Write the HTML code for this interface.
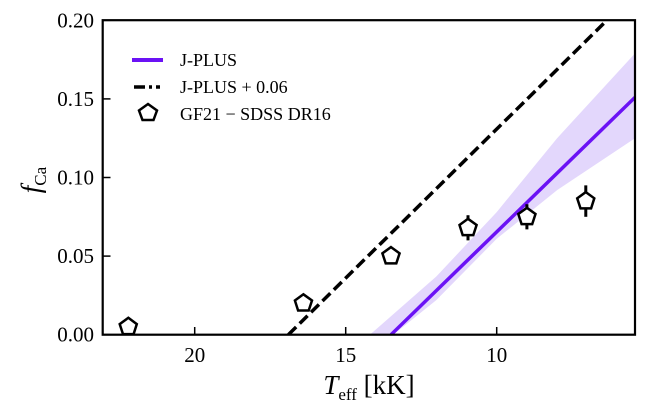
<!DOCTYPE html>
<html><head><meta charset="utf-8"><style>
body{margin:0;background:#fff}
svg{display:block;font-family:"Liberation Serif",serif}
</style></head><body>
<svg id="chart" width="667" height="409" viewBox="0 0 667 409">
<g id="band"></g>
<g id="lines"></g>
<g id="pts"></g>
<rect x="102.7" y="20.2" width="532.3" height="314.5" fill="none" stroke="#000" stroke-width="2.2"/>
<g id="axes"></g>
<text x="369" y="394" font-size="27" text-anchor="middle"><tspan font-style="italic">T</tspan><tspan font-size="17" dy="6">eff</tspan><tspan dy="-6"> [kK]</tspan></text>
<text transform="translate(40,180) rotate(-90)" font-size="27" text-anchor="middle"><tspan font-style="italic">f</tspan><tspan font-size="17" dy="6">Ca</tspan></text>
<g>
<line x1="132" y1="60" x2="163" y2="60" stroke="#6b12f5" stroke-width="4"/>
<text x="180" y="66" font-size="18">J-PLUS</text>
<line x1="134" y1="87" x2="160" y2="87" stroke="#000" stroke-width="3.5" stroke-dasharray="11,4,3,4"/>
<text x="180" y="93" font-size="18">J-PLUS + 0.06</text>
<polygon points="148,104 157,110.5 153.5,120 142.5,120 139,110.5" fill="#fff" stroke="#000" stroke-width="2.5"/>
<text x="180" y="120" font-size="18">GF21 − SDSS DR16</text>
</g>
</svg>
<script>
const xTicks=[20,15,10];
const yTicks=[0,0.05,0.10,0.15,0.20];
const yTickLabels=["0.00","0.05","0.10","0.15","0.20"];
const ptT=[22.2,16.4,13.5,10.95,9.0,7.05];
const ptF=[0.005,0.02,0.05,0.068,0.075,0.085];
const ptErr=[0,0,0,0.008,0.008,0.01];
const lineT=[13.5,5.42];
const lineF=[0,0.151];
const dashT=[16.9,6.35];
const dashF=[0,0.2];
const bandT=[14.2,12.0,10.0,8.0,5.42];
const bandLo=[-0.012,0.022,0.061,0.092,0.125];
const bandHi=[0.0,0.037,0.078,0.125,0.179];
const X=t=>194.7+(20-t)*30.2;
const Y=f=>334.7-f*1572;
const NS="http://www.w3.org/2000/svg";
function mk(tag,parent,attrs){const e=document.createElementNS(NS,tag);for(const k in attrs)e.setAttribute(k,attrs[k]);parent.appendChild(e);return e;}
const svg=document.getElementById('chart');
const defs=mk('defs',svg,{});
const cp=mk('clipPath',defs,{id:'clip'});
mk('rect',cp,{x:102.7,y:20.2,width:532.3,height:314.5});
const band=document.getElementById('band');band.setAttribute('clip-path','url(#clip)');
let d='';bandT.forEach((t,i)=>{d+=(i?'L':'M')+X(t)+','+Y(bandHi[i]);});
for(let i=bandT.length-1;i>=0;i--)d+='L'+X(bandT[i])+','+Y(bandLo[i]);
mk('path',band,{d:d+'Z',fill:'#e3d7fc'});
const lines=document.getElementById('lines');lines.setAttribute('clip-path','url(#clip)');
const l1=mk('line',lines,{x1:X(lineT[0]),y1:Y(lineF[0]),x2:X(lineT[1]),y2:Y(lineF[1]),stroke:'#6b12f5','stroke-width':3.5});


const l2=mk('line',lines,{x1:X(dashT[0]),y1:Y(dashF[0]),x2:X(dashT[1]),y2:Y(dashF[1]),stroke:'#000','stroke-width':3.5,'stroke-dasharray':'11,5'});


const pts=document.getElementById('pts');
ptT.forEach((t,i)=>{
  const cx=X(t),cy=Y(ptF[i]);
  if(ptErr[i]>0){const e=mk('line',pts,{x1:cx,x2:cx,y1:Y(ptF[i]+ptErr[i]),y2:Y(ptF[i]-ptErr[i]),stroke:'#000','stroke-width':3});
    
    }
  const r=9;let p=[];for(let k=0;k<5;k++){const a=-Math.PI/2+k*2*Math.PI/5;p.push((cx+r*Math.cos(a)).toFixed(1)+','+(cy+r*Math.sin(a)).toFixed(1));}
  const g=mk('polygon',pts,{points:p.join(' '),fill:'#fff',stroke:'#000','stroke-width':2.5});
  
  
});
const ax=document.getElementById('axes');
xTicks.forEach(t=>{
  mk('line',ax,{x1:X(t),x2:X(t),y1:334.7,y2:327,stroke:'#000','stroke-width':1.5});
  const tx=mk('text',ax,{x:X(t),y:362,'font-size':21,'text-anchor':'middle'});tx.textContent=t;
  
  
});
yTicks.forEach((f,i)=>{
  mk('line',ax,{x1:102.7,x2:110.5,y1:Y(f),y2:Y(f),stroke:'#000','stroke-width':1.5});
  const tx=mk('text',ax,{x:94,y:Y(f)+7,'font-size':21,'text-anchor':'end'});tx.textContent=yTickLabels[i];
  
  
});
</script>
</body></html>
